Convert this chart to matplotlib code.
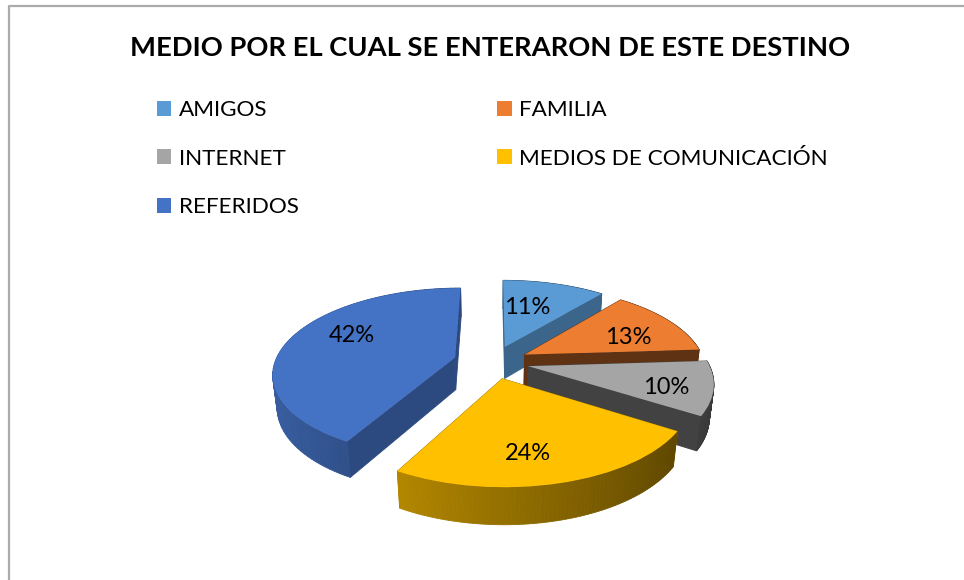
#!/usr/bin/env python3

import numpy as np
import matplotlib
matplotlib.use("Agg")
import matplotlib.pyplot as plt
from matplotlib.transforms import Transform

# Chart data
title = "MEDIO POR EL CUAL SE ENTERARON DE ESTE DESTINO"
categories = ["AMIGOS", "FAMILIA", "INTERNET", "MEDIOS DE COMUNICACIÓN", "REFERIDOS"]
values = [11, 13, 10, 24, 42]

colors = ["#5B9BD5", "#ED7D31", "#A5A5A5", "#FFC000", "#4472C4"]
explode = [0.2, 0.2, 0.2, 0.2, 0.22]
wall_shade = [0.65, 0.40, 0.40, 0.65, 0.65]
draw_order = [0, 1, 2, 4, 3]

# Camera used for the tilted pie, result is in image pixels
CX, CY = 493.0, 362.0
FX, FY = 180.0, 83.0
PERSP = 0.1745
DEPTH = 33.0


def project(u, v, down=0.0):
    d = 1 + PERSP * v + 0.02 * down
    return CX + FX * u / d, CY - FY * v / d + DEPTH * down / d


class Tilt(Transform):
    input_dims = 2
    output_dims = 2

    def transform_non_affine(self, values):
        x, y = project(values[:, 0], values[:, 1])
        return np.column_stack([x, y])


def shade(color, f):
    return tuple(c * f for c in matplotlib.colors.to_rgb(color))


def wall(ax, u, v, color, z):
    # Quad hanging from a top edge
    x0, y0 = project(u, v)
    x1, y1 = project(u[::-1], v[::-1], 1.0)
    ax.fill(np.r_[x0, x1], np.r_[y0, y1], color=color, lw=0.6, zorder=z)


plt.rcParams["font.family"] = ["Lato", "DejaVu Sans"]
fig = plt.figure(figsize=(9.64, 5.8), dpi=100)
ax = fig.add_axes([0, 0, 1, 1])

wedges, _, autotexts = ax.pie(values, explode=explode, startangle=90,
                              counterclock=False, colors=colors,
                              autopct=lambda p: "%.0f%%" % p)
ax.set_aspect("auto")
ax.set_xlim(0, 964)
ax.set_ylim(580, 0)
ax.axis("off")

tilt = Tilt() + ax.transData
label_pos = [(527, 307), (628, 337), (666, 388), (528, 454), (352, 336)]

for rank, i in enumerate(draw_order):
    w = wedges[i]
    base = 10 + rank * 10
    w.set_transform(tilt)
    w.set_zorder(base + 5)
    w.set_linewidth(0)
    w.set_clip_on(False)

    cu, cv = w.center
    t = np.radians(np.linspace(w.theta1, w.theta2, 80))

    # Walls from back to front, so the near ones end up on top
    parts = []
    for a in (t[0], t[-1]):
        u = np.array([cu, cu + np.cos(a)])
        v = np.array([cv, cv + np.sin(a)])
        parts.append((v.mean(), u, v, shade(colors[i], wall_shade[i])))
    for a0, a1 in zip(t[:-1], t[1:]):
        u = cu + np.cos([a0, a1])
        v = cv + np.sin([a0, a1])
        parts.append((v.mean(), u, v, shade(colors[i], 0.58 - 0.25 * np.cos(a0))))
    parts.sort(key=lambda p: -p[0])
    for n, (_, u, v, col) in enumerate(parts):
        wall(ax, u, v, col, base + n * 0.01)

    autotexts[i].set_position(label_pos[i])
    autotexts[i].set_fontsize(17)
    autotexts[i].set_color("black")
    autotexts[i].set_zorder(100)

# Outer frame of the chart, only top and left are in the picture
ax.plot([9, 9, 964], [580, 5.5, 5.5], color="#ABABAB", lw=1.6, zorder=1)

ax.text(490.5, 47.5, title, ha="center", va="center", fontsize=19.7, fontweight="bold", color="black")

# ncols fills by column, so hand the entries over in that order
col_order = [0, 2, 4, 1, 3]
ax.legend([wedges[i] for i in col_order], [categories[i] for i in col_order],
          ncols=2, loc="upper left", bbox_to_anchor=(157, 100), bbox_transform=ax.transData,
          frameon=False, fontsize=16.2, borderpad=0, borderaxespad=0, handlelength=0.64,
          handleheight=0.64, handletextpad=0.35, columnspacing=8.8, labelspacing=1.27,
          labelcolor="black")

plt.savefig("out.png", format="png", dpi=100)
